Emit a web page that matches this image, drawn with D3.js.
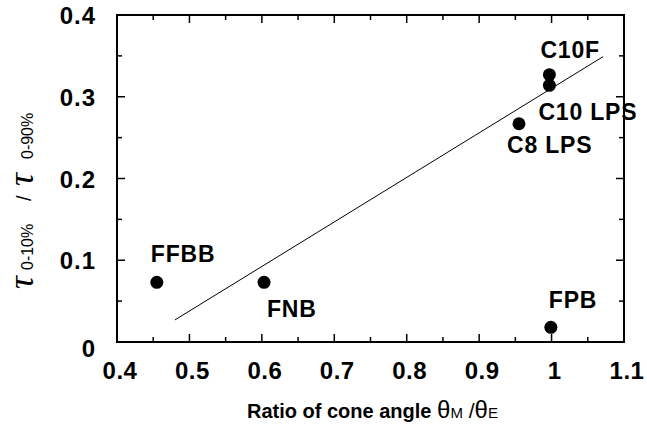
<!DOCTYPE html>
<html><head><meta charset="utf-8">
<script src="https://cdn.jsdelivr.net/npm/d3@7"></script>
<style>body{margin:0;background:#fff}</style>
</head><body>
<svg id="chart" width="647" height="424"></svg>
<script>
const labels = ["FFBB","FNB","FPB","C8 LPS","C10F","C10 LPS"];
const xValues = [0.455, 0.603, 0.999, 0.955, 0.997, 0.997];
const yValues = [0.073, 0.073, 0.018, 0.267, 0.327, 0.314];
const fitX = [0.48, 1.071];
const fitY = [0.027, 0.349];
const xTicks = [0.4,0.5,0.6,0.7,0.8,0.9,1,1.1];
const yTicks = [0,0.1,0.2,0.3,0.4];
const xMinor = [0.45,0.55,0.65,0.75,0.85,0.95,1.05];
const yMinor = [0.05,0.15,0.25,0.35];
// label offsets (dx, dy) relative to point, px
const labelOffsets = [[-6,-20],[3,35],[-2,-19],[-12,29],[-9,-17],[-11,35]];

const svg = d3.select("#chart");
const L=117, R=624, T=15, B=342;
const x = d3.scaleLinear().domain([0.4,1.1]).range([L,R]);
const y = d3.scaleLinear().domain([0,0.4]).range([B,T]);
const font = "'Liberation Sans', Arial, Helvetica, sans-serif";

const g = svg.append("g");
g.append("rect").attr("x",L).attr("y",T).attr("width",R-L).attr("height",B-T)
 .attr("fill","none").attr("stroke","#000").attr("stroke-width",2);

function drawTicks(vals, len){
  vals.forEach(v=>{
    g.append("line").attr("x1",x(v)).attr("x2",x(v)).attr("y1",B).attr("y2",B-len).attr("stroke","#000").attr("stroke-width",1.5);
    g.append("line").attr("x1",x(v)).attr("x2",x(v)).attr("y1",T).attr("y2",T+len).attr("stroke","#000").attr("stroke-width",1.5);
  });
}
function drawYTicks(vals, len){
  vals.forEach(v=>{
    g.append("line").attr("y1",y(v)).attr("y2",y(v)).attr("x1",L).attr("x2",L+len).attr("stroke","#000").attr("stroke-width",1.5);
    g.append("line").attr("y1",y(v)).attr("y2",y(v)).attr("x1",R).attr("x2",R-len).attr("stroke","#000").attr("stroke-width",1.5);
  });
}
drawTicks(xTicks.slice(1,-1),8); drawTicks(xMinor,5);
drawYTicks(yTicks.slice(1,-1),8); drawYTicks(yMinor,5);

g.selectAll(".xl").data(xTicks).enter().append("text")
 .attr("x",d=>x(d)+3).attr("y",379).attr("text-anchor","middle")
 .attr("font-family",font).attr("font-weight","bold").attr("font-size",24).attr("letter-spacing",0.5)
 .text(d=>d3.format("")(d));
g.selectAll(".yl").data(yTicks).enter().append("text")
 .attr("x",96).attr("y",d=>y(d)+9+(d===0?6:0)).attr("text-anchor","end")
 .attr("font-family",font).attr("font-weight","bold").attr("font-size",24).attr("letter-spacing",1)
 .text(d=>d3.format("")(d));

g.append("line").attr("x1",x(fitX[0])).attr("y1",y(fitY[0])).attr("x2",x(fitX[1])).attr("y2",y(fitY[1]))
 .attr("stroke","#000").attr("stroke-width",1);

const data = labels.map((l,i)=>({l, x:xValues[i], y:yValues[i], o:labelOffsets[i]}));
g.selectAll("circle").data(data).enter().append("circle")
 .attr("cx",d=>x(d.x)).attr("cy",d=>y(d.y)).attr("r",6.5).attr("fill","#000");
g.selectAll(".pl").data(data).enter().append("text")
 .attr("x",d=>x(d.x)+d.o[0]).attr("y",d=>y(d.y)+d.o[1])
 .attr("font-family",font).attr("font-weight","bold").attr("font-size",23).attr("letter-spacing",0.8)
 .text(d=>d.l);

// x axis title
const xt = svg.append("text").attr("x",247).attr("y",418).attr("text-anchor","start")
 .attr("font-family",font).attr("font-size",20).attr("font-weight","bold");
xt.append("tspan").text("Ratio of cone angle ");
xt.append("tspan").attr("font-weight","normal").attr("font-size",24).text("θ");
xt.append("tspan").attr("font-weight","normal").attr("font-size",15).text("M");
xt.append("tspan").attr("font-weight","normal").attr("font-size",21).text(" /");
xt.append("tspan").attr("font-weight","normal").attr("font-size",24).text("θ");
xt.append("tspan").attr("font-weight","normal").attr("font-size",15).text("E");

// y axis title (pieces placed along rotated baseline)
const yt = svg.append("g").attr("transform","translate(33,287) rotate(-90)");
const serif = "'Liberation Serif', 'Times New Roman', serif";
yt.append("text").attr("x",-2).attr("y",0).attr("font-family",serif).attr("font-style","italic").attr("font-size",36).text("τ");
yt.append("text").attr("x",17).attr("y",0).attr("font-family",font).attr("font-size",16).text("0-10%");
yt.append("text").attr("x",86).attr("y",-2).attr("font-family",font).attr("font-size",20).text("/");
yt.append("text").attr("x",101).attr("y",0).attr("font-family",serif).attr("font-style","italic").attr("font-size",36).text("τ");
yt.append("text").attr("x",128).attr("y",0).attr("font-family",font).attr("font-size",16).text("0-90%");
</script>
</body></html>
